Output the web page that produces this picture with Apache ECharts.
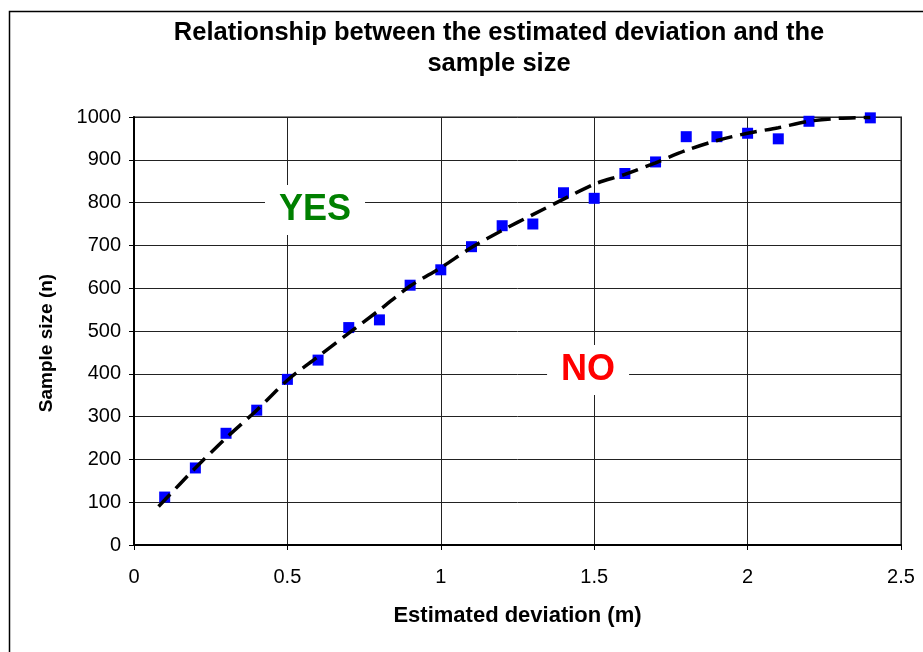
<!DOCTYPE html>
<html>
<head>
<meta charset="utf-8">
<script src="https://cdn.jsdelivr.net/npm/echarts@6/dist/echarts.min.js"></script>
<style>
html,body{margin:0;padding:0;background:#fff;}
#chart{width:923px;height:652px;}
</style>
</head>
<body>
<div id="chart"></div>
<script>
// ---- data ----
var deviation = [0.1,0.2,0.3,0.4,0.5,0.6,0.7,0.8,0.9,1.0,1.1,1.2,1.3,1.4,1.5,1.6,1.7,1.8,1.9,2.0,2.1,2.2,2.4];
var sampleSize = [112,180,261,315,387,432,508,526,607,643,697,746,750,823,810,868,895,954,954,962,949,990,998];
var trendX = [0.08,0.1,0.2,0.3,0.4,0.5,0.6,0.7,0.8,0.9,1.0,1.1,1.2,1.3,1.4,1.5,1.6,1.7,1.8,1.9,2.0,2.1,2.2,2.3,2.4];
var trendY = [90,105,180,250,315,385,440,495,549,605,648,695,735,772,808,843,866,893,922,945,962,975,990,997,999];
var noteText = ['YES','NO'];
var noteX = [0.59,1.48];
var noteY = [783,409];
var noteColor = ['#008000','#FF0000'];
var titleText = 'Relationship between the estimated deviation and the\nsample size';
var xName = 'Estimated deviation (m)';
var yName = 'Sample size (n)';

var FONT = '"Liberation Sans", Arial, sans-serif';
var chart = echarts.init(document.getElementById('chart'), null, {renderer:'canvas'});

var pts = deviation.map(function(x,i){return [x, sampleSize[i]];});
var trend = trendX.map(function(x,i){return [x, trendY[i]];});
var notes = noteText.map(function(t,i){
  return {value:[noteX[i], noteY[i]], name:t,
    label:{color:noteColor[i]}};
});

chart.setOption({
  animation:false,
  backgroundColor:'#fff',
  title:{
    text:titleText,
    left:494, top:12, textAlign:'center',
    textStyle:{fontFamily:FONT, fontSize:25.5, fontWeight:'bold', color:'#000', lineHeight:31}
  },
  graphic:[{
    type:'rect', left:7, top:9, silent:true, z:-1,
    shape:{x:0,y:0,width:1200,height:1000},
    style:{fill:'none', stroke:'#000', lineWidth:1.5}
  }],
  grid:{left:134, right:22, top:117, bottom:107, show:true, borderColor:'#888', borderWidth:2, backgroundColor:'transparent'},
  xAxis:{
    type:'value', min:0, max:2.5, interval:0.5,
    name:xName, nameLocation:'middle', nameGap:60,
    nameTextStyle:{fontFamily:FONT, fontSize:22, fontWeight:'bold', color:'#000'},
    axisLine:{show:true, onZero:false, lineStyle:{color:'#000', width:2}},
    axisTick:{show:true, inside:false, length:5, lineStyle:{color:'#000'}},
    axisLabel:{fontFamily:FONT, fontSize:20, color:'#000', margin:22,
      formatter:function(v){return String(v);}},
    splitLine:{show:true, lineStyle:{color:'#222', width:1}}
  },
  yAxis:{
    type:'value', min:0, max:1000, interval:100,
    name:yName, nameLocation:'middle', nameGap:78, nameRotate:90,
    nameTextStyle:{fontFamily:FONT, fontSize:19, fontWeight:'bold', color:'#000', padding:[0,24,0,0]},
    axisLine:{show:true, onZero:false, lineStyle:{color:'#000', width:2}},
    axisTick:{show:true, inside:false, length:5, lineStyle:{color:'#000'}},
    axisLabel:{fontFamily:FONT, fontSize:20, color:'#000', margin:13,
      formatter:function(v){return String(v);}},
    splitLine:{show:true, lineStyle:{color:'#222', width:1}}
  },
  series:[
    {
      type:'scatter', data:pts, symbol:'rect', symbolSize:11,
      itemStyle:{color:'#0000FF', opacity:1}, z:3
    },
    {
      type:'line', data:trend, showSymbol:false, smooth:0.3,
      lineStyle:{color:'#000', width:3.5, type:[17,8]}, z:4
    },
    {
      type:'scatter', data:notes, symbolSize:0, z:2,
      itemStyle:{opacity:1},
      label:{show:true, position:'inside', formatter:'{b}',
        fontFamily:FONT, fontSize:36, fontWeight:'bold', opacity:1,
        backgroundColor:'#fff', padding:[7,14,7,14]}
    }
  ]
});
</script>
</body>
</html>
